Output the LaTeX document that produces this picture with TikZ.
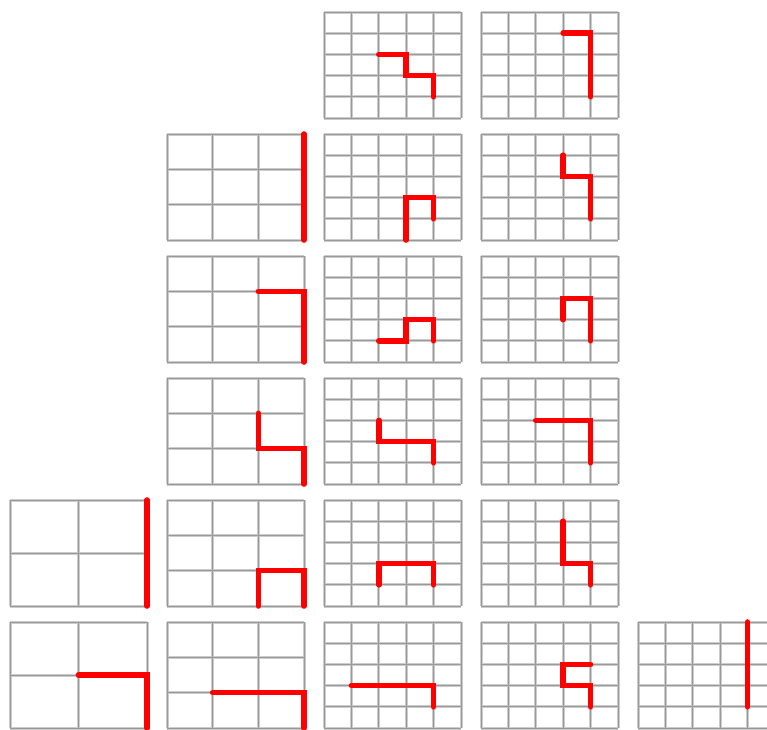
\documentclass[tikz,border=0pt]{standalone}
\usepackage{tikz}

% one lattice: left, top, cells per side, red route
\newcommand{\lattice}[4]{%
  \begin{scope}[shift={(#1,#2)}, xscale=137/#3, yscale=106/#3]
    \foreach \k in {0,...,#3} {
      \draw[cellhalo] (\k,0) -- (\k,#3);
      \draw[cellhalo] (0,\k) -- (#3,\k);
    }
    \foreach \k in {0,...,#3} {
      \draw[cellline] (\k,0) -- (\k,#3);
      \draw[cellline] (0,\k) -- (#3,\k);
    }
    \draw[route] #4;
  \end{scope}}

\begin{document}
\begin{tikzpicture}[x=1pt, y=-1pt,
  cellhalo/.style={draw=gray!40, line width=3pt},
  cellline/.style={draw=gray!80, line width=1pt},
  route/.style={draw=red, line width=5.6pt, line cap=round},
]
\clip (0,0) rectangle (767,729);
\fill[white] (0,0) rectangle (767,729);

% row 1
\lattice{324}{12}{5}{(2,2) -- (3,2) -- (3,3) -- (4,3) -- (4,4)}
\lattice{481}{12}{5}{(3,1) -- (4,1) -- (4,4)}
% row 2
\lattice{167}{134}{3}{(3,0) -- (3,3)}
\lattice{324}{134}{5}{(3,5) -- (3,3) -- (4,3) -- (4,4)}
\lattice{481}{134}{5}{(3,1) -- (3,2) -- (4,2) -- (4,4)}
% row 3
\lattice{167}{256}{3}{(2,1) -- (3,1) -- (3,3)}
\lattice{324}{256}{5}{(2,4) -- (3,4) -- (3,3) -- (4,3) -- (4,4)}
\lattice{481}{256}{5}{(3,3) -- (3,2) -- (4,2) -- (4,4)}
% row 4
\lattice{167}{378}{3}{(2,1) -- (2,2) -- (3,2) -- (3,3)}
\lattice{324}{378}{5}{(2,2) -- (2,3) -- (4,3) -- (4,4)}
\lattice{481}{378}{5}{(2,2) -- (4,2) -- (4,4)}
% row 5
\lattice{10}{500}{2}{(2,0) -- (2,2)}
\lattice{167}{500}{3}{(2,3) -- (2,2) -- (3,2) -- (3,3)}
\lattice{324}{500}{5}{(2,4) -- (2,3) -- (4,3) -- (4,4)}
\lattice{481}{500}{5}{(3,1) -- (3,3) -- (4,3) -- (4,4)}
% row 6
\lattice{10}{622}{2}{(1,1) -- (2,1) -- (2,2)}
\lattice{167}{622}{3}{(1,2) -- (3,2) -- (3,3)}
\lattice{324}{622}{5}{(1,3) -- (4,3) -- (4,4)}
\lattice{481}{622}{5}{(4,2) -- (3,2) -- (3,3) -- (4,3) -- (4,4)}
\lattice{638}{622}{5}{(4,0) -- (4,4)}
\end{tikzpicture}
\end{document}
